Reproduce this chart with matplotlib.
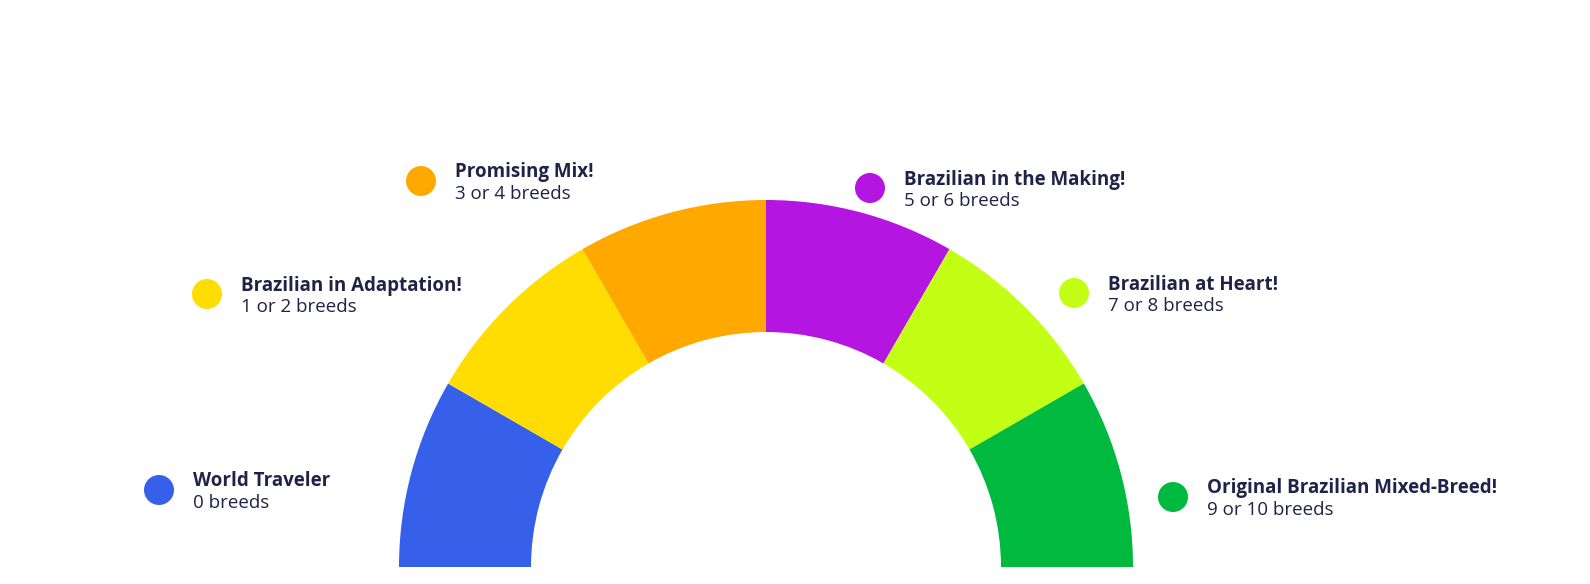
import matplotlib
matplotlib.use("Agg")
import matplotlib.pyplot as plt
from matplotlib.patches import Wedge, Circle

categories = ["World Traveler", "Brazilian in Adaptation!", "Promising Mix!",
              "Brazilian in the Making!", "Brazilian at Heart!",
              "Original Brazilian Mixed-Breed!"]
ranges = ["0 breeds", "1 or 2 breeds", "3 or 4 breeds", "5 or 6 breeds",
          "7 or 8 breeds", "9 or 10 breeds"]
segment_values = [1, 1, 1, 1, 1, 1]
colors = ["#3760EA", "#FFDD00", "#FFA800", "#B515E0", "#C3FF14", "#00B93F"]

# label layout (pixel positions of dot centres)
dot_pos = [(159, 490), (207, 294), (421, 181), (870, 188), (1074, 293), (1173, 497)]
TEXT = "#1E2347"

W, H = 1590, 584
fig = plt.figure(figsize=(W / 100, H / 100), dpi=100)
ax = fig.add_axes([0, 0, 1, 1])
ax.set_xlim(0, W)
ax.set_ylim(H, 0)
ax.set_aspect("equal")
ax.axis("off")

cx, cy = 766, 567
r_out, r_in = 367, 235
total = sum(segment_values)
start = 180.0
for v, c in zip(segment_values, colors):
    span = 180.0 * v / total
    ax.add_patch(Wedge((cx, cy), r_out, start, start + span, width=r_out - r_in,
                       facecolor=c, edgecolor="none", antialiased=True))
    start += span

family = ["Open Sans", "DejaVu Sans"]
for (dx, dy), cat, rng, c in zip(dot_pos, categories, ranges, colors):
    ax.add_patch(Circle((dx, dy), 15, facecolor=c, edgecolor="none"))
    tx = dx + 34
    ax.text(tx, dy - 3.5, cat, fontsize=13.5, fontweight="bold", color=TEXT,
            family=family, ha="left", va="baseline")
    ax.text(tx, dy + 18, rng, fontsize=13.5, color=TEXT,
            family=family, ha="left", va="baseline")

fig.savefig("out.png", dpi=100, facecolor="white")
